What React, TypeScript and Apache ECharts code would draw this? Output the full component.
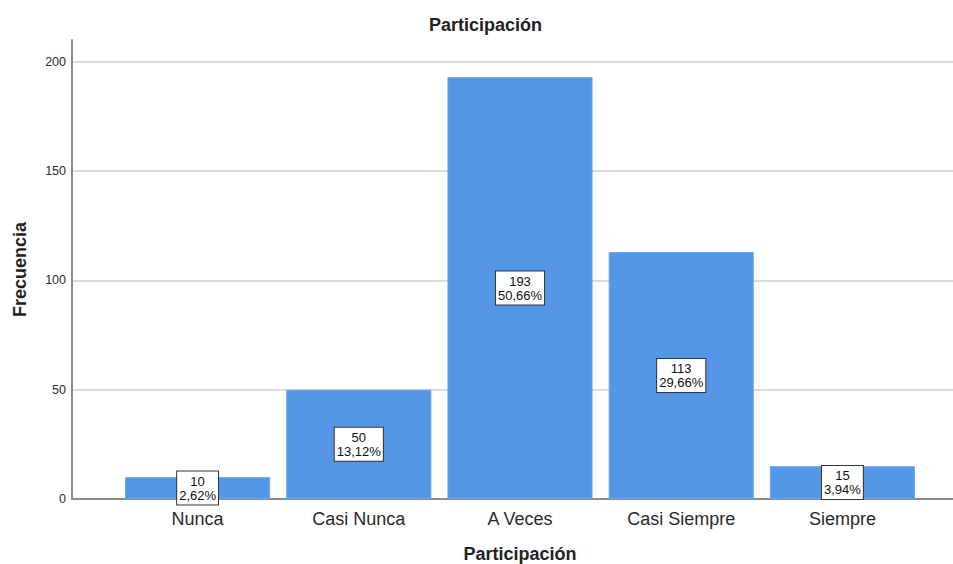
import React, { useEffect, useRef } from "react";
import * as echarts from "echarts";

const categories = ["Nunca", "Casi Nunca", "A Veces", "Casi Siempre", "Siempre"];
const frequencies = [10, 50, 193, 113, 15];
const percents = ["2,62%", "13,12%", "50,66%", "29,66%", "3,94%"];
const yTicks = { min: 0, max: 210, interval: 50 };

const FONT = "Liberation Sans, Arial, sans-serif";

export default function App() {
  const ref = useRef<HTMLDivElement>(null);
  useEffect(() => {
    if (!ref.current) return;
    const chart = echarts.init(ref.current, undefined, { renderer: "svg" });
    chart.setOption({
      animation: false,
      backgroundColor: "#ffffff",
      textStyle: { fontFamily: FONT },
      title: {
        text: "Participación",
        left: 424,
        top: 11,
        textStyle: { fontFamily: FONT, fontSize: 18, fontWeight: "bold", color: "#222" },
      },
      grid: [
        { left: 72, right: 0, top: 40, bottom: 65, containLabel: false, outerBoundsMode: "none" },
        { left: 117, right: 30, top: 40, bottom: 65, containLabel: false, outerBoundsMode: "none" },
      ],
      xAxis: [
        {
          gridIndex: 0,
          type: "value",
          min: 0,
          max: 1,
          axisLine: { show: true, onZero: false, lineStyle: { color: "#8c8c8c", width: 2 } },
          axisTick: { show: false },
          axisLabel: { show: false },
          splitLine: { show: false },
        },
        {
          gridIndex: 1,
          type: "category",
          data: categories,
          axisLine: { show: false },
          axisTick: { show: false },
          axisLabel: { fontFamily: FONT, fontSize: 18, color: "#2a2a2a", margin: 11 },
          name: "Participación",
          nameLocation: "middle",
          nameGap: 46,
          nameTextStyle: { fontFamily: FONT, fontSize: 18, fontWeight: "bold", color: "#222" },
        },
      ],
      yAxis: [
        {
          gridIndex: 0,
          type: "value",
          min: yTicks.min,
          max: yTicks.max,
          interval: yTicks.interval,
          axisLine: { show: true, lineStyle: { color: "#8c8c8c", width: 2 } },
          axisTick: { show: false },
          axisLabel: { fontFamily: FONT, fontSize: 12.5, color: "#2a2a2a", margin: 6, showMaxLabel: false },
          splitLine: { show: true, showMaxLine: false, showMinLine: false, lineStyle: { color: "#cfcfcf", width: 1.5 } },
          name: "Frecuencia",
          nameLocation: "middle",
          nameGap: 43,
          nameTextStyle: { fontFamily: FONT, fontSize: 18, fontWeight: "bold", color: "#222" },
        },
        {
          gridIndex: 1,
          type: "value",
          min: yTicks.min,
          max: yTicks.max,
          interval: yTicks.interval,
          show: false,
          splitLine: { show: false },
        },
      ],
      series: [
        {
          type: "bar",
          xAxisIndex: 1,
          yAxisIndex: 1,
          data: frequencies,
          barCategoryGap: "10%",
          itemStyle: { color: "#5596e6", borderColor: "#6aa4ea", borderWidth: 1 },
          label: {
            show: true,
            position: "inside",
            formatter: (p: any) => `${frequencies[p.dataIndex]}\n${percents[p.dataIndex]}`,
            fontFamily: FONT,
            fontSize: 13,
            lineHeight: 14,
            color: "#111",
            backgroundColor: "#ffffff",
            borderColor: "#333",
            borderWidth: 1,
            padding: [3, 2, 2, 2],
            align: "center",
          },
        },
      ],
    });
    return () => chart.dispose();
  }, []);
  return <div ref={ref} style={{ position: "absolute", left: 0, top: 0, width: 953, height: 564 }} />;
}
